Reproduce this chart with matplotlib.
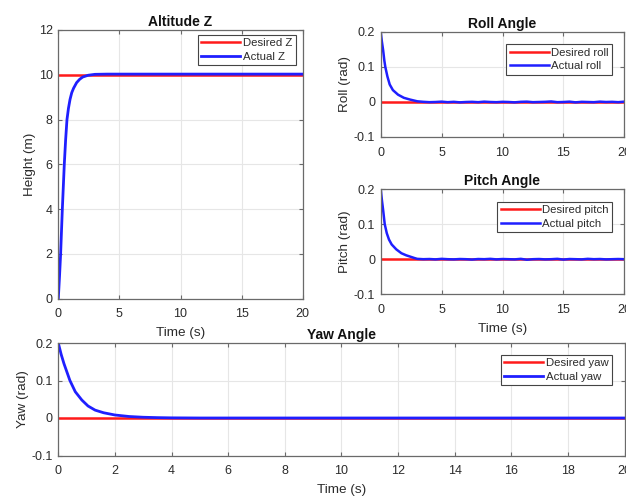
import matplotlib
matplotlib.use("Agg")
import matplotlib.pyplot as plt
import numpy as np

plt.rcParams['font.family'] = ['Liberation Sans', 'DejaVu Sans']

# ---------------- data ----------------
t_z = [0, 0.05, 0.1, 0.19, 0.26, 0.33, 0.41, 0.49, 0.6, 0.71, 0.83, 0.96,
       1.1, 1.25, 1.5, 1.75, 2.0, 2.45, 3.0, 4.0, 20.0]
z_actual = [0, 0.5, 1.0, 2.0, 3.0, 4.0, 5.0, 6.0, 7.1, 8.0, 8.5, 8.9,
            9.2, 9.4, 9.65, 9.8, 9.9, 9.98, 10.02, 10.03, 10.03]
z_desired = 10.0

t_settle = [3.5, 4.0, 4.5, 5.0, 5.5, 6.0, 6.5, 7.0, 7.5, 8.0, 8.5, 9.0,
            9.5, 10.0, 10.5, 11.0, 11.5, 12.0, 12.5, 13.0, 13.5, 14.0,
            14.5, 15.0, 15.5, 16.0, 16.5, 17.0, 17.5, 18.0, 18.5, 19.0,
            19.5, 20.0]

t_roll_tr = [0, 0.1, 0.2, 0.3, 0.38, 0.55, 0.74, 1.0, 1.42, 1.9, 2.4, 3.0]
roll_tr = [0.2, 0.172, 0.148, 0.118, 0.1, 0.073, 0.05, 0.034, 0.021, 0.012,
           0.007, 0.002]
roll_ss = [0.0005, -0.0005, 0.0, 0.001, -0.0005, 0.0005, -0.001, 0.0, 0.0005,
           -0.0005, 0.001, 0.0, -0.0005, 0.0005, 0.0, -0.001, 0.0005, 0.001,
           -0.0005, 0.0, 0.0005, 0.0015, -0.0005, 0.0, 0.001, -0.001, 0.0005,
           0.0, -0.0005, 0.001, 0.0, 0.0005, -0.0005, 0.001]

t_pitch_tr = [0, 0.1, 0.2, 0.33, 0.5, 0.68, 0.9, 1.28, 1.7, 2.1, 2.8, 3.0]
pitch_tr = [0.2, 0.168, 0.14, 0.1, 0.074, 0.056, 0.042, 0.028, 0.017, 0.011,
            0.003, 0.001]
pitch_ss = [0.0, 0.0005, -0.0005, 0.001, 0.0, -0.0005, 0.0005, 0.0, -0.001,
            0.0005, 0.0, 0.001, -0.0005, 0.0005, 0.0, -0.0005, 0.001, -0.0015,
            0.0, 0.0005, -0.0005, 0.0, 0.001, -0.001, 0.0005, 0.0, -0.0005,
            0.001, 0.0, 0.0005, -0.0005, 0.0, 0.0005, 0.0]

t_yaw = [0, 0.1, 0.2, 0.41, 0.6, 0.83, 1.05, 1.3, 1.6, 2.0, 2.5, 3.0, 3.5,
         4.0, 5.0, 20.0]
yaw_actual = [0.2, 0.17, 0.145, 0.1, 0.07, 0.048, 0.032, 0.021, 0.014,
              0.008, 0.004, 0.002, 0.001, 0.0004, 0.0, 0.0]

t_range = [0, 20]
angle_desired = 0.0

# ---------------- figure ----------------
W, H = 626, 496
fig = plt.figure(figsize=(W / 100, H / 100), dpi=100)
fig.patch.set_facecolor('white')


def px_axes(l, r, t, b):
    return fig.add_axes([l / W, 1 - b / H, (r - l) / W, (b - t) / H])


SPINE = '#6a6a6a'
TXT = '#2b2b2b'
RED = '#ff1a1a'
BLUE = '#1f1fff'


def style(ax, xt, yt, ylim, ylabel, title, xlabel=None):
    ax.set_xlim(0, 20)
    ax.set_ylim(*ylim)
    ax.set_xticks(xt)
    ax.set_yticks(yt)
    ax.set_yticklabels([('%g' % v) for v in yt])
    ax.grid(True, color='#e6e6e6', linewidth=0.8)
    ax.set_axisbelow(True)
    for s in ax.spines.values():
        s.set_color(SPINE)
        s.set_linewidth(0.9)
    ax.tick_params(direction='in', length=3, width=0.8, color=SPINE,
                   labelsize=9, labelcolor=TXT, top=True, right=True)
    ax.tick_params(axis='x', pad=7)
    ax.tick_params(axis='y', pad=4)
    ax.set_ylabel(ylabel, fontsize=9.7, color=TXT, labelpad=2)
    ax.set_title(title, fontsize=10, fontweight='bold', color='#111111', pad=3)
    if xlabel:
        ax.set_xlabel(xlabel, fontsize=9.7, color=TXT, labelpad=5)


def legend(ax, xr, yt):
    leg = ax.legend(loc='upper right', bbox_to_anchor=(xr / W, 1 - yt / H),
                    bbox_transform=fig.transFigure, borderaxespad=0,
                    fontsize=8.2, frameon=True, fancybox=False, framealpha=1,
                    edgecolor='#444444', handlelength=3.4, handletextpad=0.25,
                    labelspacing=0.3, borderpad=0.3)
    leg.get_frame().set_linewidth(0.8)
    for txt in leg.get_texts():
        txt.set_color(TXT)


# Altitude Z
ax1 = px_axes(58.3, 302.7, 30, 298.7)
ax1.plot(t_range, [z_desired, z_desired], color=RED, lw=1.8, label='Desired Z')
ax1.plot(t_z, z_actual, color=BLUE, lw=2.0, label='Actual Z')
style(ax1, [0, 5, 10, 15, 20], [0, 2, 4, 6, 8, 10, 12], (0, 12),
      'Height (m)', 'Altitude Z', 'Time (s)')
legend(ax1, 295.5, 35)

# Roll
ax2 = px_axes(380.7, 624.3, 32, 137)
ax2.plot(t_range, [angle_desired] * 2, color=RED, lw=1.8, label='Desired roll')
ax2.plot(t_roll_tr + t_settle, roll_tr + roll_ss, color=BLUE, lw=1.8,
         label='Actual roll')
style(ax2, [0, 5, 10, 15, 20], [-0.1, 0, 0.1, 0.2], (-0.1, 0.2),
      'Roll (rad)', 'Roll Angle')
legend(ax2, 612.3, 44.3)

# Pitch
ax3 = px_axes(380.7, 624.3, 189, 294.3)
ax3.plot(t_range, [angle_desired] * 2, color=RED, lw=1.8, label='Desired pitch')
ax3.plot(t_pitch_tr + t_settle, pitch_tr + pitch_ss, color=BLUE, lw=1.8,
         label='Actual pitch')
style(ax3, [0, 5, 10, 15, 20], [-0.1, 0, 0.1, 0.2], (-0.1, 0.2),
      'Pitch (rad)', 'Pitch Angle', 'Time (s)')
legend(ax3, 612.3, 201.7)

# Yaw
ax4 = px_axes(58.3, 624.5, 343, 455.5)
ax4.plot(t_range, [angle_desired] * 2, color=RED, lw=1.8, label='Desired yaw')
ax4.plot(t_yaw, yaw_actual, color=BLUE, lw=2.0, label='Actual yaw')
style(ax4, list(range(0, 21, 2)), [-0.1, 0, 0.1, 0.2], (-0.1, 0.2),
      'Yaw (rad)', 'Yaw Angle', 'Time (s)')
legend(ax4, 612, 355)

fig.savefig('out.png', dpi=100, facecolor='white')
